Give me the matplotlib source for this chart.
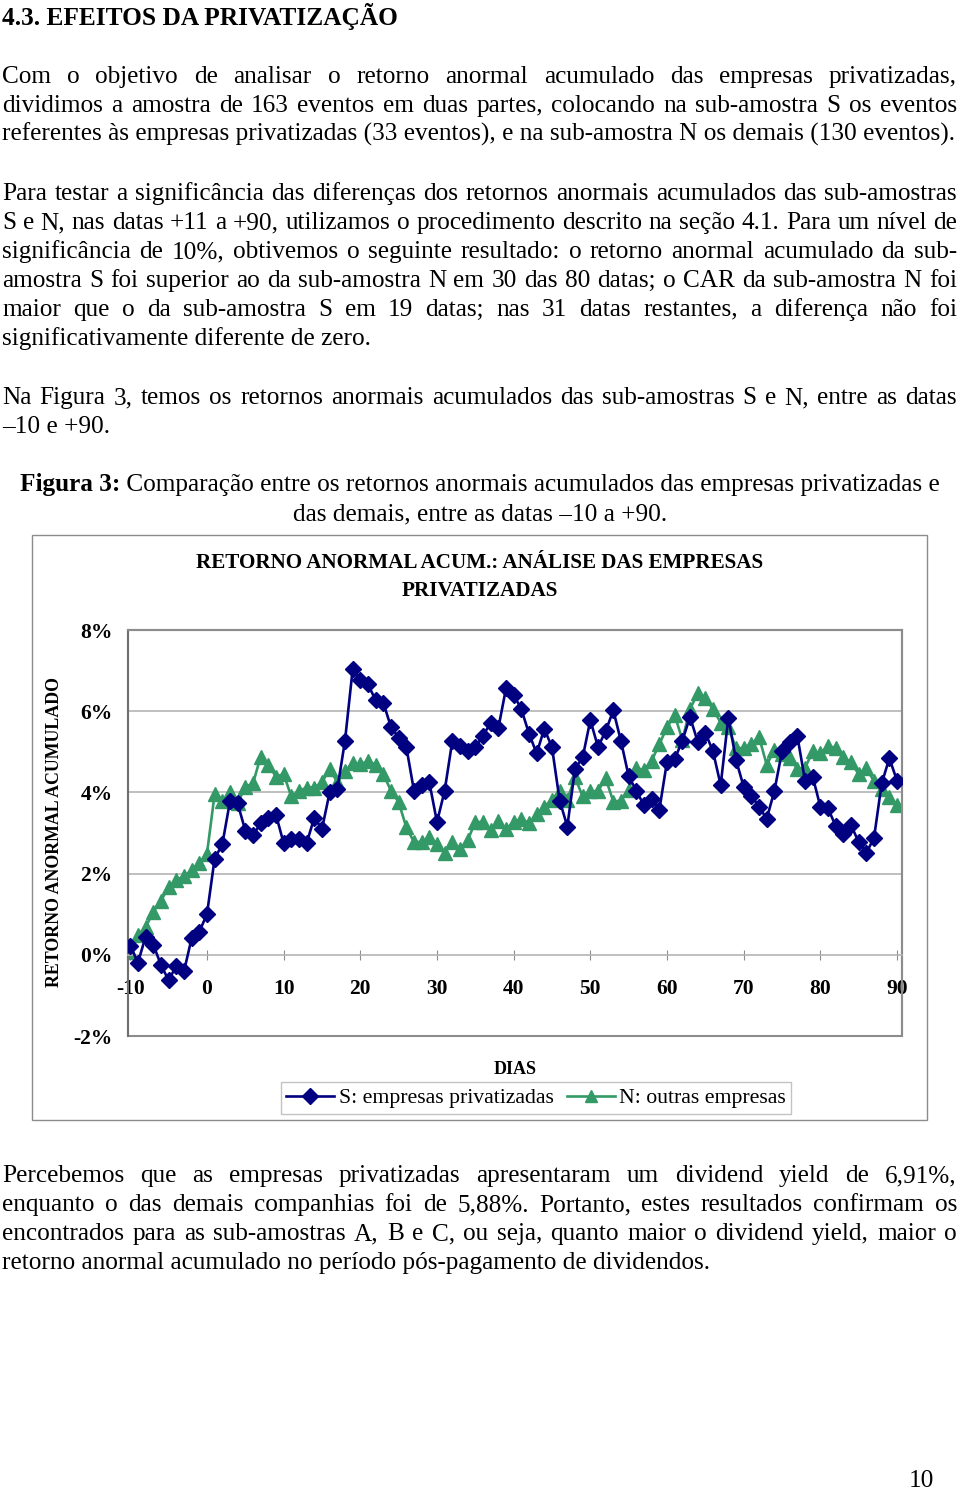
import numpy as np
import matplotlib
matplotlib.use("Agg")
import matplotlib.pyplot as plt
from matplotlib.patches import Rectangle

W, H = 960, 1491
SERIF = ["Liberation Serif", "DejaVu Serif"]

# dias -10 .. +90
days = list(range(-10, 91))

# S: empresas privatizadas (%)
car_s = [
    0.22, -0.19, 0.45, 0.25, -0.25, -0.63, -0.27, -0.41, 0.41, 0.57,
    1.00, 2.37, 2.72, 3.78, 3.73, 3.06, 2.94, 3.24, 3.38, 3.45,
    2.75, 2.86, 2.84, 2.75, 3.38, 3.10, 4.00, 4.08, 5.27, 7.03,
    6.76, 6.66, 6.27, 6.21, 5.61, 5.35, 5.12, 4.04, 4.17, 4.25,
    3.27, 4.04, 5.27, 5.15, 5.02, 5.12, 5.39, 5.72, 5.58, 6.56,
    6.41, 6.05, 5.45, 4.96, 5.57, 5.11, 3.80, 3.16, 4.58, 4.86,
    5.78, 5.12, 5.51, 6.02, 5.26, 4.40, 4.04, 3.68, 3.84, 3.57,
    4.76, 4.82, 5.27, 5.86, 5.25, 5.47, 5.01, 4.18, 5.84, 4.80,
    4.14, 3.92, 3.65, 3.35, 4.03, 5.01, 5.23, 5.39, 4.29, 4.39,
    3.65, 3.61, 3.17, 2.98, 3.19, 2.78, 2.51, 2.88, 4.22, 4.84,
    4.29,
]

# N: outras empresas (%)
car_n = [
    0.08, 0.49, 0.68, 1.06, 1.33, 1.67, 1.84, 1.94, 2.08, 2.26,
    2.49, 3.96, 3.80, 4.00, 3.73, 4.14, 4.22, 4.88, 4.68, 4.39,
    4.45, 3.90, 4.03, 4.12, 4.12, 4.25, 4.58, 4.25, 4.53, 4.72,
    4.69, 4.77, 4.68, 4.45, 4.04, 3.76, 3.14, 2.78, 2.78, 2.90,
    2.74, 2.51, 2.78, 2.61, 2.82, 3.27, 3.27, 3.08, 3.29, 3.10,
    3.27, 3.35, 3.24, 3.47, 3.65, 3.82, 4.04, 3.82, 4.37, 3.90,
    4.03, 4.03, 4.35, 3.77, 3.80, 4.07, 4.60, 4.55, 4.78, 5.19,
    5.60, 5.91, 5.29, 6.05, 6.44, 6.32, 6.05, 5.72, 5.60, 5.09,
    5.09, 5.19, 5.37, 4.68, 5.04, 4.94, 4.85, 4.58, 4.60, 5.01,
    4.96, 5.15, 5.09, 4.86, 4.74, 4.45, 4.60, 4.27, 4.09, 3.88,
    3.70,
]

x_ticks = list(range(-10, 91, 10))
y_ticks = [-2, 0, 2, 4, 6, 8]

heading = "4.3. EFEITOS DA PRIVATIZAÇÃO"
para1 = [
    "Com o objetivo de analisar o retorno anormal acumulado das empresas privatizadas,",
    "dividimos a amostra de 163 eventos em duas partes, colocando na sub-amostra S os eventos",
    "referentes às empresas privatizadas (33 eventos), e na sub-amostra N os demais (130 eventos).",
]
para2 = [
    "Para testar a significância das diferenças dos retornos anormais acumulados das sub-amostras",
    "S e N, nas datas +11 a +90, utilizamos o procedimento descrito na seção 4.1. Para um nível de",
    "significância de 10%, obtivemos o seguinte resultado: o retorno anormal acumulado da sub-",
    "amostra S foi superior ao da sub-amostra N em 30 das 80 datas; o CAR da sub-amostra N foi",
    "maior que o da sub-amostra S em 19 datas; nas 31 datas restantes, a diferença não foi",
    "significativamente diferente de zero.",
]
para3 = [
    "Na Figura 3, temos os retornos anormais acumulados das sub-amostras S e N, entre as datas",
    "\u201310 e +90.",
]
para4 = [
    "Percebemos que as empresas privatizadas apresentaram um dividend yield de 6,91%,",
    "enquanto o das demais companhias foi de 5,88%. Portanto, estes resultados confirmam os",
    "encontrados para as sub-amostras A, B e C, ou seja, quanto maior o dividend yield, maior o",
    "retorno anormal acumulado no período pós-pagamento de dividendos.",
]

BODY = 18.2
X0, X1 = 2, 957

fig = plt.figure(figsize=(W / 100, H / 100), dpi=100)
renderer = fig.canvas.get_renderer()


def text_width(s, size, weight="normal"):
    t = fig.text(0, 0, s, fontsize=size, family=SERIF, fontweight=weight)
    w = t.get_window_extent(renderer=renderer).width
    t.remove()
    return w


def draw_paragraph(lines, y0, step=29):
    for i, line in enumerate(lines):
        y = 1 - (y0 + i * step) / H
        if i == len(lines) - 1:
            fig.text(X0 / W, y, line, fontsize=BODY, family=SERIF, va="baseline")
            continue
        # justificado: espalha as palavras entre as margens
        words = line.split(" ")
        widths = [text_width(w, BODY) for w in words]
        gap = (X1 - X0 - sum(widths)) / (len(words) - 1)
        x = X0
        for w, wd in zip(words, widths):
            fig.text(x / W, y, w, fontsize=BODY, family=SERIF, va="baseline")
            x += wd + gap


fig.text(X0 / W, 1 - 25 / H, heading, fontsize=18.3, family=SERIF,
         fontweight="bold", va="baseline")
draw_paragraph(para1, 83)
draw_paragraph(para2, 200)
draw_paragraph(para3, 404)
draw_paragraph(para4, 1182)

# legenda da figura
cap_bold = "Figura 3:"
cap_rest = " Comparação entre os retornos anormais acumulados das empresas privatizadas e"
wb = text_width(cap_bold, BODY, "bold")
wr = text_width(cap_rest, BODY)
xs = 480 - (wb + wr) / 2
fig.text(xs / W, 1 - 491 / H, cap_bold, fontsize=BODY, family=SERIF,
         fontweight="bold", va="baseline")
fig.text((xs + wb) / W, 1 - 491 / H, cap_rest, fontsize=BODY, family=SERIF,
         va="baseline")
fig.text(480 / W, 1 - 520 / H, "das demais, entre as datas \u201310 a +90.",
         fontsize=BODY, family=SERIF, ha="center", va="baseline")

fig.text(921 / W, 1 - 1487 / H, "10", fontsize=BODY, family=SERIF,
         ha="center", va="baseline")

# moldura do gráfico
fig.patches.append(Rectangle((32 / W, 1 - 1120 / H), (927 - 32) / W, (1120 - 535) / H,
                             transform=fig.transFigure, fill=False,
                             edgecolor="#8c8c8c", lw=1))

fig.text(480 / W, 1 - 563 / H, "RETORNO ANORMAL ACUM.: ANÁLISE DAS EMPRESAS",
         fontsize=15.2, family=SERIF, fontweight="bold", ha="center", va="center")
fig.text(480 / W, 1 - 591 / H, "PRIVATIZADAS",
         fontsize=15.2, family=SERIF, fontweight="bold", ha="center", va="center")

left, right, top, bottom = 128, 902, 630, 1036
ax = fig.add_axes([left / W, 1 - bottom / H, (right - left) / W, (bottom - top) / H])

grey = "#8c8c8c"
ax.set_ylim(-2, 8)
ax.set_xlim(-10.3, 90.65)
for v in y_ticks[2:-1]:
    ax.axhline(v, color="#b4b4b4", lw=1.2, zorder=1)

ax.plot(days, car_s, color="#000080", marker="D", markersize=8.5, lw=1.9,
        label="S: empresas privatizadas", zorder=3)
ax.plot(days, car_n, color="#339966", marker="^", markersize=10, lw=1.9,
        label="N: outras empresas", zorder=2)

for s in ["top", "right"]:
    ax.spines[s].set_color(grey)
    ax.spines[s].set_linewidth(1.5)
ax.spines["left"].set_color("#707070")
ax.spines["left"].set_linewidth(1.5)
ax.spines["bottom"].set_position(("data", 0))
ax.spines["bottom"].set_color("#b4b4b4")
ax.spines["bottom"].set_linewidth(1.2)
ax.add_patch(Rectangle((0, 0), 1, 1, transform=ax.transAxes, fill=False,
                       edgecolor=grey, lw=1.5, zorder=0, clip_on=False))

ax.set_xticks(x_ticks)
ax.set_xticklabels([str(v) for v in x_ticks], fontsize=15.5, family=SERIF,
                   fontweight="bold")
ax.tick_params(axis="x", direction="inout", length=7, color=grey, pad=14)
ax.set_yticks(y_ticks)
ax.set_yticklabels([f"{v}%" for v in y_ticks], fontsize=15.5, family=SERIF,
                   fontweight="bold")
ax.tick_params(axis="y", length=0, pad=11)

fig.text(55 / W, 1 - 832 / H, "RETORNO ANORMAL ACUMULADO", fontsize=12.9,
         family=SERIF, fontweight="bold", rotation=90, ha="center", va="center")
fig.text(515 / W, 1 - 1070 / H, "DIAS", fontsize=13, family=SERIF,
         fontweight="bold", ha="center", va="center")

leg = ax.legend(loc="center", bbox_to_anchor=(536 / W, 1 - 1098 / H),
                bbox_transform=fig.transFigure, ncol=2, frameon=True,
                fancybox=False, prop={"family": SERIF, "size": 15.7},
                handlelength=2.2, handletextpad=0.2, columnspacing=0.6,
                borderpad=0.25, borderaxespad=0)
leg.get_frame().set_edgecolor("#b4b4b4")
leg.get_frame().set_linewidth(1)
for h in leg.legend_handles:
    h.set_markersize(8)

fig.savefig("out.png", dpi=100)
